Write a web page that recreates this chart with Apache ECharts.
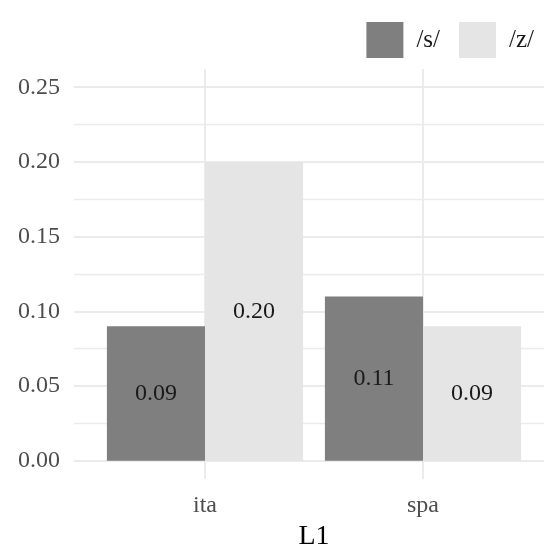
<!DOCTYPE html>
<html>
<head>
<meta charset="utf-8">
<script src="https://cdn.jsdelivr.net/npm/echarts@6/dist/echarts.min.js"></script>
<style>
  html, body { margin: 0; padding: 0; background: #fff; }
  #chart { width: 544px; height: 546px; }
</style>
</head>
<body>
<div id="chart"></div>
<script>
// ---- data ----
const categories = ['ita', 'spa'];
const seriesNames = ['/s/', '/z/'];
const valuesS = [0.09, 0.11];
const valuesZ = [0.20, 0.09];
const yTicks = [0, 0.05, 0.10, 0.15, 0.20, 0.25];
const yMinorTicks = [0.025, 0.075, 0.125, 0.175, 0.225];
const xCatPositions = [0, 1];

const FONT = 'Liberation Serif';
const GRID_COLOR = '#EBEBEB';
const yMin = -0.0122, yMax = 0.2622;

const chart = echarts.init(document.getElementById('chart'), null, { renderer: 'canvas' });

const option = {
  backgroundColor: '#ffffff',
  animation: false,
  textStyle: { fontFamily: FONT },
  legend: {
    data: seriesNames,
    right: 5,
    top: 17,
    itemWidth: 37,
    itemHeight: 36,
    itemGap: 19,
    icon: 'rect',
    textStyle: { fontFamily: FONT, fontSize: 25, color: '#1a1a1a', padding: [0, 0, 0, 8] }
  },
  grid: [
    { left: 74, top: 69, width: 480, height: 410, containLabel: false, outerBoundsMode: 'none' },
    { left: 96, top: 69, width: 436, height: 410, containLabel: false, outerBoundsMode: 'none' }
  ],
  xAxis: [
    {
      gridIndex: 0, type: 'value', min: -0.6, max: 1.6,
      axisLine: { show: false },
      axisTick: { show: false, customValues: xCatPositions },
      axisLabel: { show: false, customValues: xCatPositions },
      splitLine: { show: true, lineStyle: { color: GRID_COLOR, width: 2 } }
    },
    {
      gridIndex: 1, type: 'category', data: categories,
      axisLine: { show: false },
      axisTick: { show: false },
      axisLabel: { fontFamily: FONT, fontSize: 24, color: '#4D4D4D', margin: 15 },
      splitLine: { show: false },
      name: 'L1',
      nameLocation: 'middle',
      nameGap: 42,
      nameTextStyle: { fontFamily: FONT, fontSize: 28, color: '#000000' }
    }
  ],
  yAxis: [
    {
      gridIndex: 0, type: 'value', min: yMin, max: yMax,
      axisLine: { show: false },
      axisTick: { show: false, customValues: yTicks },
      axisLabel: {
        customValues: yTicks,
        fontFamily: FONT, fontSize: 24, color: '#4D4D4D', margin: 14,
        formatter: v => v.toFixed(2)
      },
      splitLine: { show: true, lineStyle: { color: GRID_COLOR, width: 2 } }
    },
    {
      gridIndex: 0, type: 'value', min: yMin, max: yMax,
      axisLine: { show: false },
      axisTick: { show: false, customValues: yMinorTicks },
      axisLabel: { show: false, customValues: yMinorTicks },
      splitLine: { show: true, lineStyle: { color: GRID_COLOR, width: 1.3 } }
    },
    {
      gridIndex: 1, type: 'value', min: yMin, max: yMax,
      axisLine: { show: false },
      axisTick: { show: false },
      axisLabel: { show: false },
      splitLine: { show: false }
    }
  ],
  series: [
    {
      name: seriesNames[0], type: 'bar', xAxisIndex: 1, yAxisIndex: 2,
      data: valuesS, barGap: '0%', barCategoryGap: '10%',
      itemStyle: { color: '#7F7F7F' },
      label: { show: true, position: 'inside', fontFamily: FONT, fontSize: 24, color: '#1a1a1a',
               formatter: p => p.value.toFixed(2) }
    },
    {
      name: seriesNames[1], type: 'bar', xAxisIndex: 1, yAxisIndex: 2,
      data: valuesZ, barGap: '0%', barCategoryGap: '10%',
      itemStyle: { color: '#E5E5E5' },
      label: { show: true, position: 'inside', fontFamily: FONT, fontSize: 24, color: '#1a1a1a',
               formatter: p => p.value.toFixed(2) }
    }
  ]
};
chart.setOption(option);
</script>
</body>
</html>
